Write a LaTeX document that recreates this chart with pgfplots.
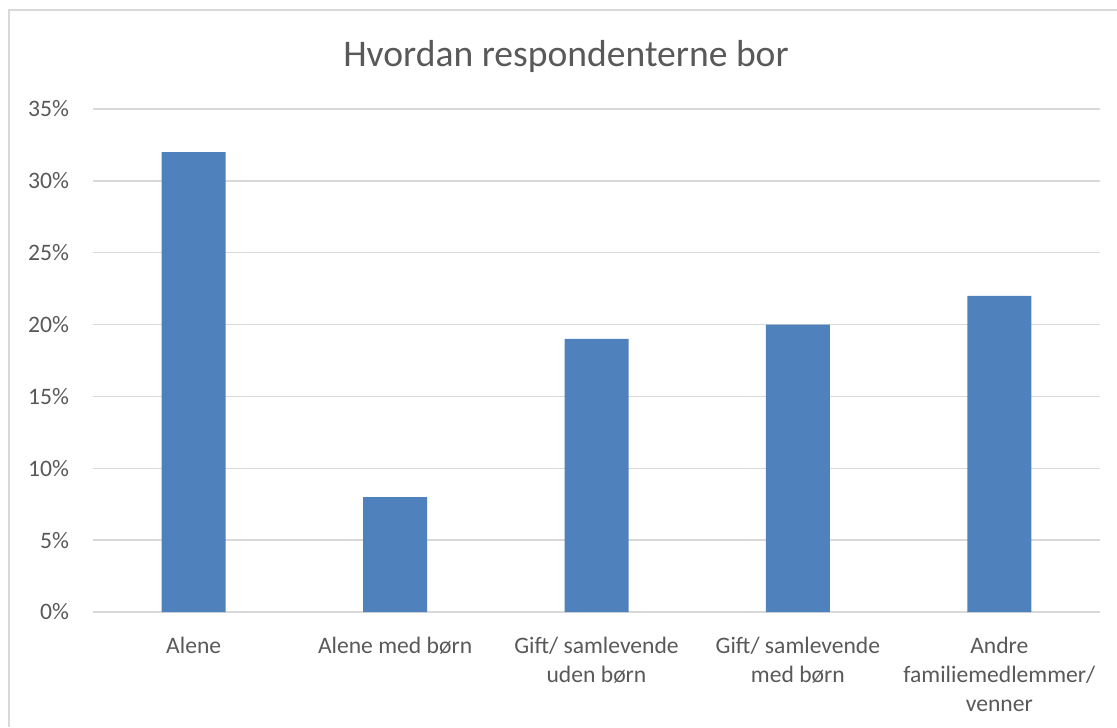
\documentclass[border=0pt]{standalone}
\usepackage{pgfplots}
\pgfplotsset{compat=1.18}
\usepackage{fontspec}
\setmainfont{Carlito}
\definecolor{barblue}{RGB}{79,129,189}
\definecolor{txtgray}{RGB}{89,89,89}
\definecolor{gridgray}{RGB}{217,217,217}
\begin{document}
\begin{tikzpicture}[x=1pt,y=1pt]
\useasboundingbox (0,0) rectangle (558.5,363.5);
\draw[gridgray, line width=0.9pt] (4.5,0) -- (4.5,358.5) -- (558.5,358.5);
\begin{axis}[
  at={(46.5pt,57.5pt)}, anchor=south west,
  scale only axis,
  width=503.5pt, height=251.5pt,
  xmin=-0.5, xmax=4.5,
  ymin=0, ymax=35,
  ytick={0,5,...,35},
  xtick={0,1,2,3,4},
  xticklabels={Alene, Alene med børn, {Gift/ samlevende\\uden børn}, {Gift/ samlevende\\med børn}, {Andre\\familiemedlemmer/\\venner}},
  xticklabel style={align=center, font=\fontsize{11.8}{14.5}\selectfont, text=txtgray, yshift=-9pt},
  yticklabel={\pgfmathprintnumber{\tick}\%},
  yticklabel style={font=\fontsize{11.8}{13}\selectfont, text=txtgray, xshift=-8.5pt},
  /pgf/number format/assume math mode=true,
  ymajorgrids,
  grid style={gridgray, line width=0.75pt},
  axis x line*=bottom,
  axis y line*=left,
  x axis line style={draw=gridgray, line width=0.9pt},
  y axis line style={draw=none},
  major tick length=0pt,
  tick style={draw=none},
  clip=false,
]
\addplot[ybar, bar width=32pt, fill=barblue, draw=none] coordinates {(0,32) (1,8) (2,19) (3,20) (4,22)};
\end{axis}
\node[anchor=base, text=txtgray, font=\fontsize{18.8}{22}\selectfont] at (283,330) {Hvordan respondenterne bor};
\end{tikzpicture}
\end{document}
